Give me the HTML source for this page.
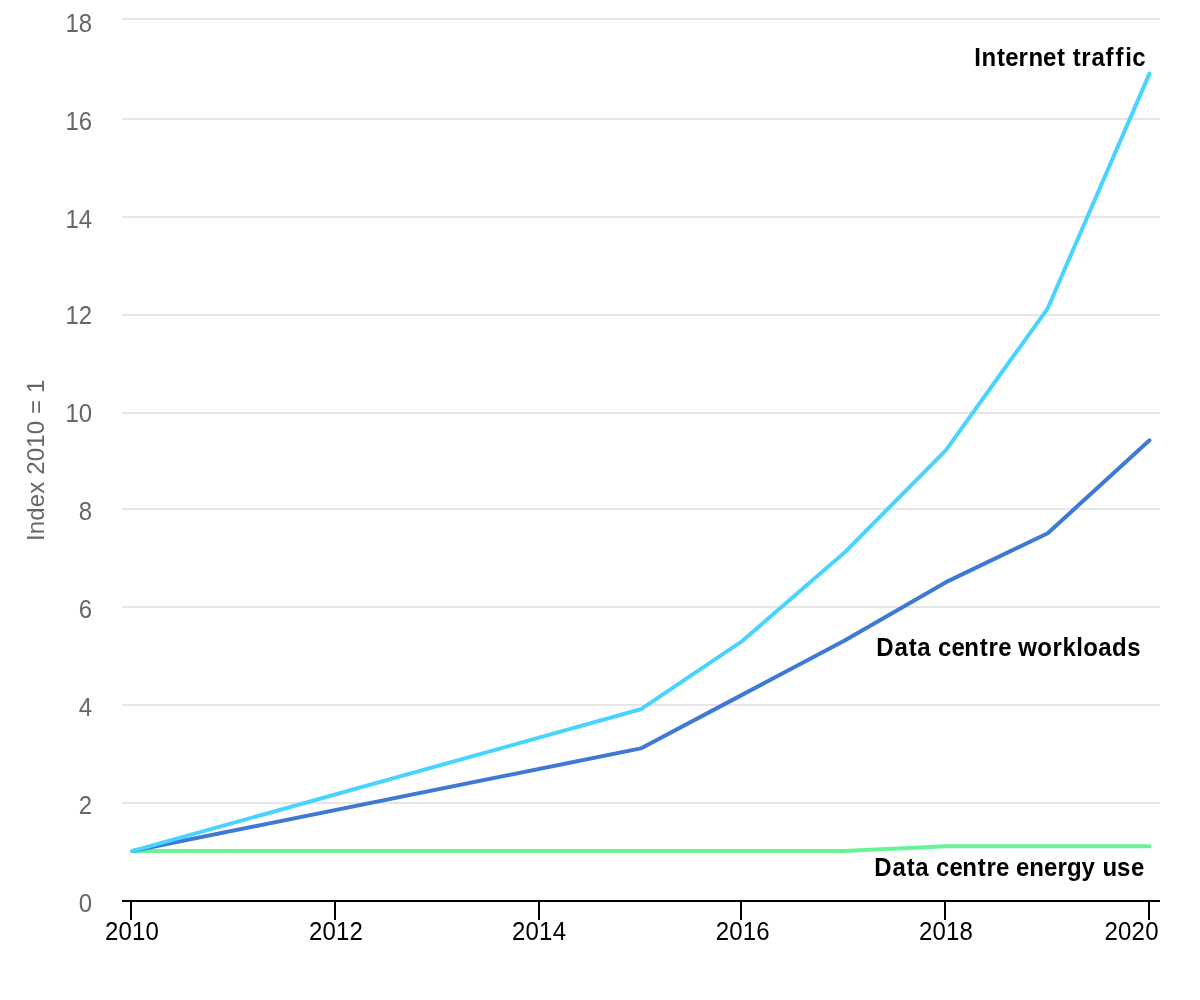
<!DOCTYPE html>
<html lang="en">
<head>
<meta charset="utf-8">
<title>Global trends in internet traffic, data centre workloads and data centre energy use, 2010-2020</title>
<style>
html,body{margin:0;padding:0;background:#fff;}
body{width:1200px;height:1000px;overflow:hidden;font-family:"Liberation Sans",Arial,Helvetica,sans-serif;}
svg{display:block;}
text{font-family:"Liberation Sans",Arial,Helvetica,sans-serif;font-size:24px;font-variant-ligatures:none;font-kerning:none;}
.yl{fill:#666;text-anchor:end;}
.xl{fill:#000;text-anchor:middle;letter-spacing:0.2px;}
.sl{font-weight:bold;fill:#000;}
.yt{fill:#666;text-anchor:start;letter-spacing:0.15px;}
</style>
</head>
<body>
<svg xmlns="http://www.w3.org/2000/svg" width="1200" height="1000" viewBox="0 0 1200 1000">
<rect x="0" y="0" width="1200" height="1000" fill="#ffffff"/>
<g stroke="#e6e6e6" stroke-width="2" fill="none">
<path d="M122 19 L1160 19"/>
<path d="M122 119 L1160 119"/>
<path d="M122 217 L1160 217"/>
<path d="M122 315 L1160 315"/>
<path d="M122 413 L1160 413"/>
<path d="M122 509 L1160 509"/>
<path d="M122 607 L1160 607"/>
<path d="M122 705 L1160 705"/>
<path d="M122 803 L1160 803"/>
</g>
<g stroke="#000" stroke-width="2" fill="none">
<path d="M122 901 L1160 901"/>
<path d="M131 901 L131 920"/>
<path d="M335 901 L335 920"/>
<path d="M539 901 L539 920"/>
<path d="M741 901 L741 920"/>
<path d="M945 901 L945 920"/>
<path d="M1149 901 L1149 920"/>
</g>
<g fill="none" stroke-width="4" stroke-linejoin="round" stroke-linecap="round">
<path d="M133.50 851.10 L844.25 851.10 L946.00 846.21 L1047.75 846.21 L1149.50 846.21" stroke="#68f394"/>
<path d="M133.47 850.80 L640.75 748.41 L742.50 694.62 L844.25 640.83 L946.00 582.15 L1047.75 533.25 L1149.50 440.34" stroke="#3e7ad3"/>
<path d="M132.00 851.10 L640.75 709.29 L742.50 640.83 L844.25 552.81 L946.00 450.12 L1047.75 308.31 L1149.50 73.59" stroke="#49d3ff"/>
</g>
<g>
<text class="yl" transform="translate(92.1,32) scale(1,1.05)">18</text>
<text class="yl" transform="translate(92.1,130) scale(1,1.05)">16</text>
<text class="yl" transform="translate(92.1,228) scale(1,1.05)">14</text>
<text class="yl" transform="translate(92.1,324) scale(1,1.05)">12</text>
<text class="yl" transform="translate(92.1,422) scale(1,1.05)">10</text>
<text class="yl" transform="translate(92.1,520) scale(1,1.05)">8</text>
<text class="yl" transform="translate(92.1,618) scale(1,1.05)">6</text>
<text class="yl" transform="translate(92.1,716) scale(1,1.05)">4</text>
<text class="yl" transform="translate(92.1,814) scale(1,1.05)">2</text>
<text class="yl" transform="translate(92.1,912) scale(1,1.05)">0</text>
</g>
<g>
<text class="xl" transform="translate(132.0,940) scale(1,1.05)">2010</text>
<text class="xl" transform="translate(336.0,940) scale(1,1.05)">2012</text>
<text class="xl" transform="translate(539.1,940) scale(1,1.05)">2014</text>
<text class="xl" transform="translate(742.8,940) scale(1,1.05)">2016</text>
<text class="xl" transform="translate(946.0,940) scale(1,1.05)">2018</text>
<text class="xl" transform="translate(1131.6,940) scale(1,1.05)">2020</text>
</g>
<text class="yt" transform="translate(44,541) rotate(-90)">Index 2010 = 1</text>
<text class="sl" transform="translate(0,66) scale(1,1.05)" y="0" x="974.24 981.42 996.91 1005.26 1018.52 1028.42 1042.96 1057.11 1065.30 1072.81 1081.32 1091.40 1105.49 1115.49 1125.32 1132.16">Internet traffic</text>
<text class="sl" transform="translate(0,656) scale(1,1.05)" y="0" x="876.29 894.40 908.71 917.30 931.30 938.06 951.60 964.32 979.71 988.42 998.16 1011.50 1018.17 1037.25 1052.42 1062.42 1076.32 1083.20 1098.35 1112.10 1127.16">Data centre workloads</text>
<text class="sl" transform="translate(0,876) scale(1,1.05)" y="0" x="874.26 892.40 906.65 915.25 929.30 936.05 949.55 962.30 977.70 986.40 996.00 1009.40 1016.06 1029.32 1043.96 1057.42 1066.97 1081.56 1094.90 1102.41 1117.06 1130.96">Data centre energy use</text>
</svg>
</body>
</html>
